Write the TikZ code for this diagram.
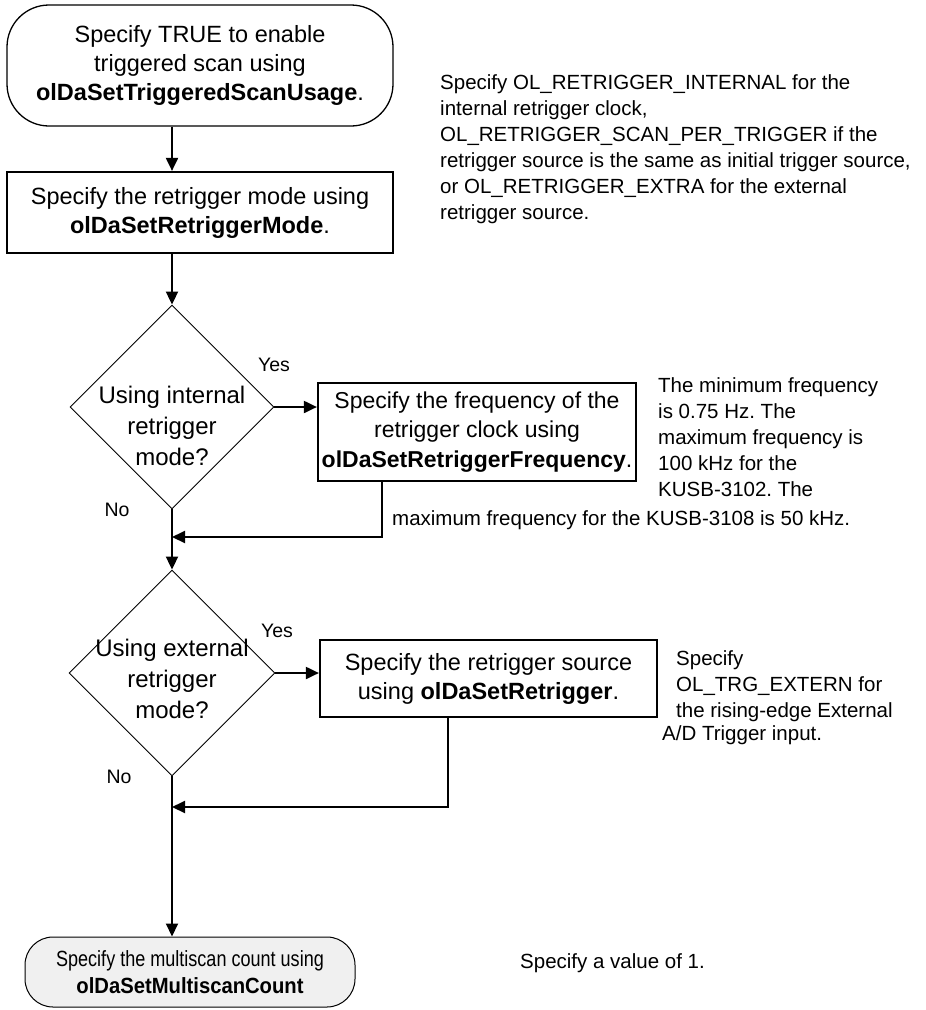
\documentclass[tikz,border=0pt]{standalone}
\usepackage{fontspec}
\usepackage{graphicx}
\setmainfont{Liberation Sans}
\usetikzlibrary{shapes.geometric,arrows.meta}
\frenchspacing
\begin{document}
\begin{tikzpicture}[x=1pt,y=-1pt,
  big/.style={font=\fontsize{23.5pt}{29pt}\selectfont, align=center},
  procbox/.style={draw, line width=2.2pt, big, inner sep=0pt},
  decision/.style={draw, diamond, line width=0.9pt, minimum width=204pt, minimum height=204pt, inner sep=0pt},
  note/.style={font=\fontsize{20.5pt}{26pt}\selectfont, align=left, inner sep=0pt, anchor=north west},
  lbl/.style={font=\fontsize{19.5pt}{24pt}\selectfont, inner sep=0pt},
  conn/.style={line width=2pt, -{Triangle[length=13pt,width=12pt]}},
]
\useasboundingbox (0,0) rectangle (926,1010);
% start terminal
\node[draw, line width=1.3pt, rounded corners=42pt, minimum width=386pt, minimum height=121pt, big, inner sep=0pt] (s) at (200,65.5)
  {Specify TRUE to enable\\triggered scan using\\\textbf{olDaSetTriggeredScanUsage}.};
% retrigger mode box
\node[procbox, minimum width=386pt, minimum height=81pt] (b2) at (200,212.5)
  {Specify the retrigger mode using\\\textbf{olDaSetRetriggerMode}.};
% decision 1
\node[decision] (d1) at (172,407) {};
\node[big, font=\fontsize{24pt}{31pt}\selectfont, inner sep=0pt] (d1t) at (172,426) {Using internal\\retrigger\\mode?};
% frequency box
\node[procbox, font=\fontsize{23pt}{29.5pt}\selectfont, minimum width=318pt, minimum height=98pt] (b3) at (477,432)
  {Specify the frequency of the\\retrigger clock using\\\textbf{olDaSetRetriggerFrequency}.};
% decision 2
\node[decision, minimum width=206pt, minimum height=206pt] (d2) at (172,673) {};
\node[big, font=\fontsize{24pt}{31pt}\selectfont, inner sep=0pt] (d2t) at (172,679) {Using external\\retrigger\\mode?};
% source box
\node[procbox, minimum width=337pt, minimum height=77pt] (b4) at (488.5,678.5)
  {Specify the retrigger source\\using \textbf{olDaSetRetrigger}.};
% end terminal
\node[draw, fill=gray!12, line width=1pt, rounded corners=28pt, minimum width=330pt, minimum height=70pt,
  font=\fontsize{22pt}{27pt}\selectfont, align=center, inner sep=0pt] (e) at (190,972)
  {\scalebox{0.82}[1]{Specify the multiscan count using}\\\scalebox{0.92}[1]{\textbf{olDaSetMultiscanCount}}};
% notes
\node[note] (n1) at (440,74.5) {Specify OL\_RETRIGGER\_INTERNAL for the\\internal retrigger clock,\\OL\_RETRIGGER\_SCAN\_PER\_TRIGGER if the\\retrigger source is the same as initial trigger source,\\or OL\_RETRIGGER\_EXTRA for the external\\retrigger source.};
\node[note] (n3a) at (658,377.5) {The minimum frequency\\is 0.75 Hz. The\\maximum frequency is\\100 kHz for the\\KUSB-3102. The};
\node[note] (n3b) at (392,510.5) {maximum frequency for the KUSB-3108 is 50 kHz.};
\node[note] (n4a) at (676,650.5) {Specify\\OL\_TRG\_EXTERN for\\the rising-edge External};
\node[note] (n4b) at (662,725.5) {A/D Trigger input.};
\node[note, anchor=west] (n5) at (520,963) {Specify a value of 1.};
% labels
\node[lbl] (y1) at (274,365) {Yes};
\node[lbl] (y2) at (277,631) {Yes};
\node[lbl] (no1) at (117,510) {No};
\node[lbl] (no2) at (119,777) {No};
% junction coordinates
\coordinate (k1) at (382,537);
\coordinate (j1) at (172,537);
\coordinate (k2) at (448,807);
\coordinate (j2) at (172,807);
% connectors
\draw[conn] (s.south -| d1.north) -- (b2.north -| d1.north);
\draw[conn] (b2.south -| d1.north) -- (d1.north);
\draw[conn] (d1.east) -- (d1.east -| b3.west);
\draw[conn] (d1.south) -- (d2.north);
\draw[conn] (b3.south -| k1) -- (k1) -- (j1);
\draw[conn] (d2.east) -- (d2.east -| b4.west);
\draw[conn] (b4.south -| k2) -- (k2) -- (j2);
\draw[conn] (d2.south) -- (d2.south |- e.north);
\end{tikzpicture}
\end{document}
